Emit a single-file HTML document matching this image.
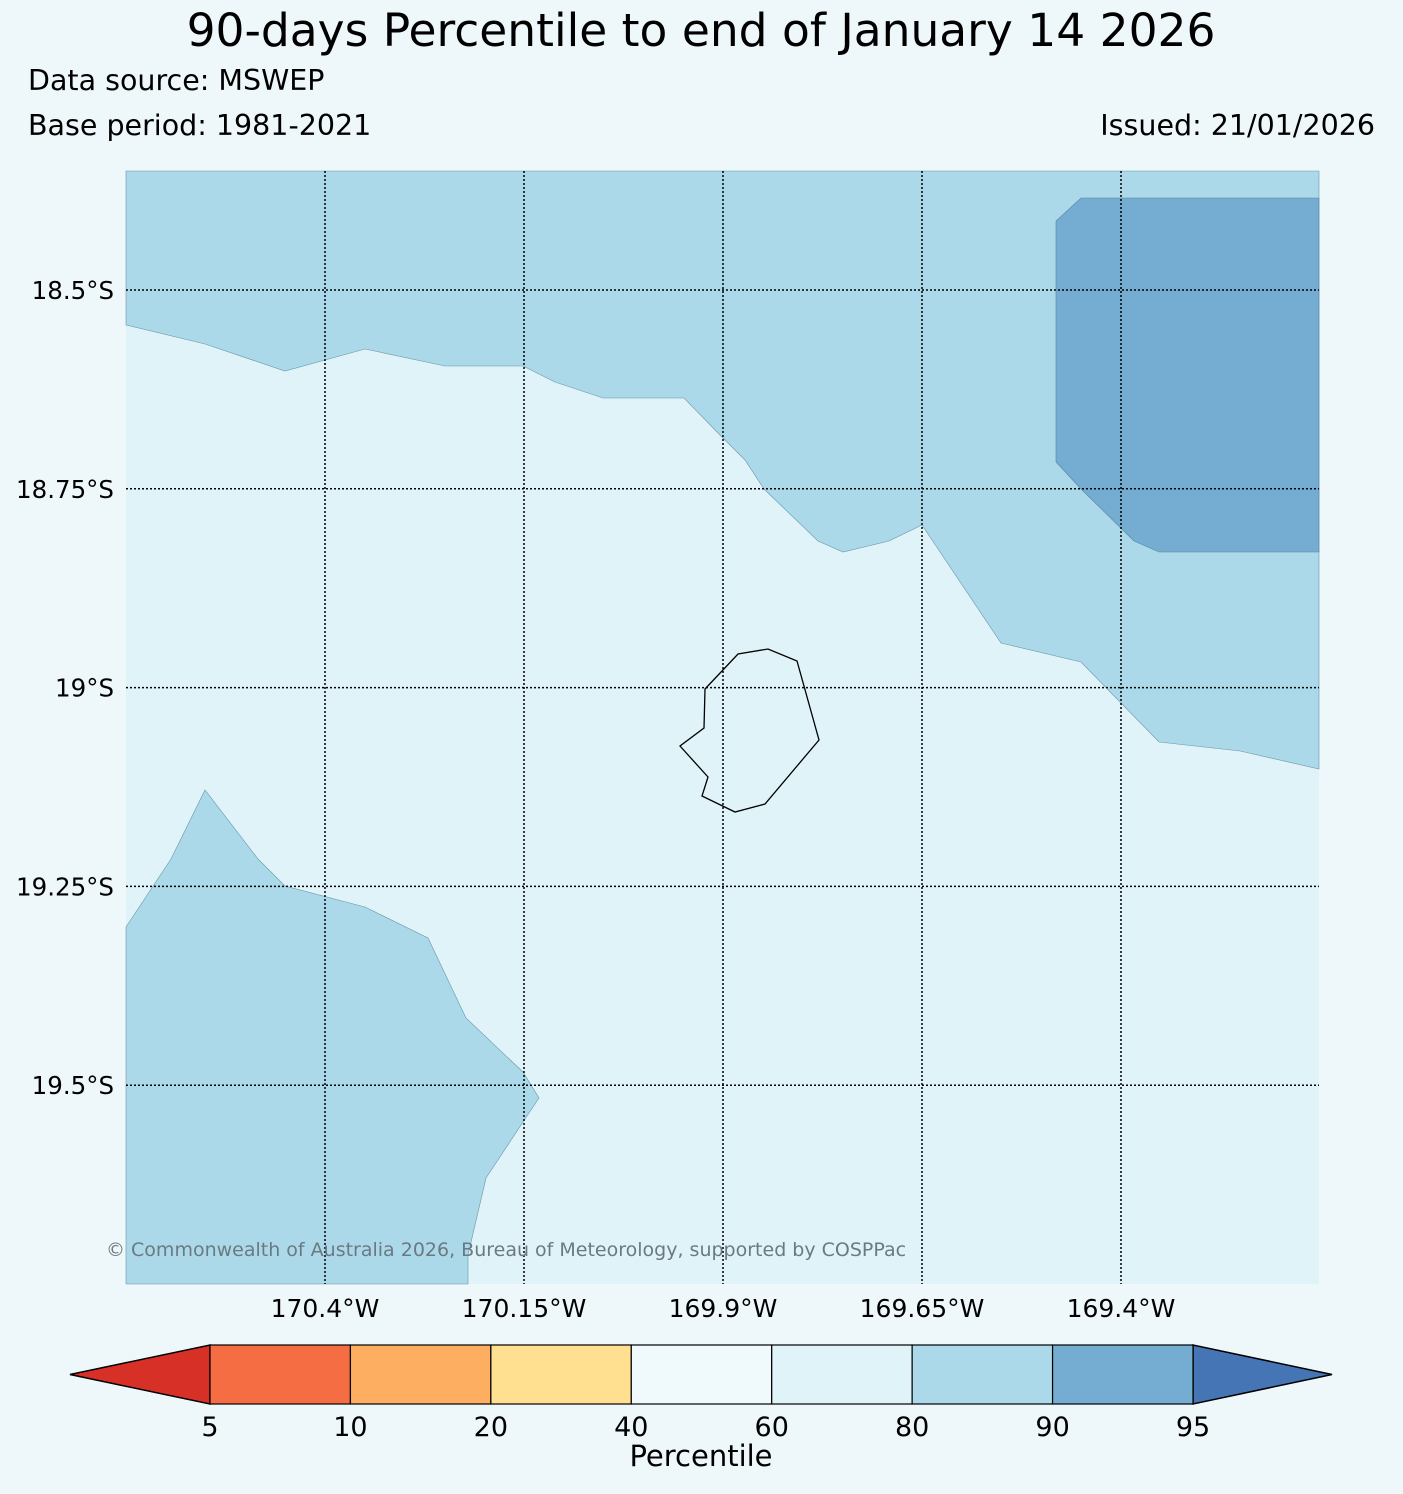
<!DOCTYPE html>
<html><head><meta charset="utf-8"><style>
html,body{margin:0;padding:0;background:#eef7fa;}
svg{display:block;font-family:"DejaVu Sans","Liberation Sans",sans-serif;}
</style></head><body>
<svg id="chart" width="1403" height="1494" viewBox="0 0 1403 1494">
<rect x="0" y="0" width="1403" height="1494" fill="#eef7fa"/>
<text x="701" y="46" font-size="45.5" text-anchor="middle">90-days Percentile to end of January 14 2026</text>
<text x="28" y="90" font-size="28.5">Data source: MSWEP</text>
<text x="28" y="135" font-size="28.5">Base period: 1981-2021</text>
<text x="1375" y="135" font-size="28.5" text-anchor="end">Issued: 21/01/2026</text>
<g>
<rect x="126" y="171" width="1193" height="1113" fill="#e0f3f8"/>
<polygon fill="#abd9e9" stroke="#6a97a8" stroke-width="0.6" points="126,171 1319,171 1319,769 1240,751 1159,742 1081,662 1001,643 922,525 889,541 843,552 818,541 764,489 745,460 720,435 684,398 603,398 555,382 523,366 445,366 365,349 285,371 205,344 126,325"/>
<polygon fill="#74add1" stroke="#5a85a0" stroke-width="0.6" points="1081,198 1319,198 1319,552 1159,552 1134,541 1081,489 1056,462 1056,221"/>
<polygon fill="#abd9e9" stroke="#6a97a8" stroke-width="0.6" points="126,927 171,859 205,790 258,859 285,886 365,907 428,938 466,1018 523,1072 539,1098 523,1122 486,1178 468,1255 468,1284 126,1284"/>
<polygon fill="none" stroke="#000" stroke-width="1.3" points="705,689 738,654 768,649 797,661 819,740 765,804 735,812 702,796 708,777 680,746 704,728"/>
<g id="grid"></g>
<text x="106" y="1256" font-size="19" fill="#6b7a82">© Commonwealth of Australia 2026, Bureau of Meteorology, supported by COSPPac</text>
</g>
<g id="lonlabels"></g>
<g id="latlabels"></g>
<g id="cbar"></g>
<text x="701" y="1466" font-size="29" text-anchor="middle">Percentile</text>
</svg>
<script>
const lonTicks = [-170.4, -170.15, -169.9, -169.65, -169.4];
const lonTickLabels = ["170.4°W", "170.15°W", "169.9°W", "169.65°W", "169.4°W"];
const latTicks = [-18.5, -18.75, -19.0, -19.25, -19.5];
const latTickLabels = ["18.5°S", "18.75°S", "19°S", "19.25°S", "19.5°S"];
const cbarBounds = [5, 10, 20, 40, 60, 80, 90, 95];
const cbarColors = ["#f46d43", "#fdae61", "#fee090", "#f0f9fb", "#e0f3f8", "#abd9e9", "#74add1"];
const cbarTickLabels = ["5", "10", "20", "40", "60", "80", "90", "95"];

const NS = "http://www.w3.org/2000/svg";
function xLon(v){ return 325 + (v + 170.4) / 0.25 * 199; }
function yLat(v){ return 290 + (-18.5 - v) / 0.25 * 198.8; }
function xCbar(i){ return 210 + i * (1193 - 210) / (cbarBounds.length - 1); }
function mk(tag, attrs, parent){ const e = document.createElementNS(NS, tag); for (const k in attrs) e.setAttribute(k, attrs[k]); parent.appendChild(e); return e; }

const grid = document.getElementById('grid');
const lonL = document.getElementById('lonlabels');
const latL = document.getElementById('latlabels');
lonTicks.forEach((v, i) => {
  const x = xLon(v);
  const l = mk('line', {x1:x, x2:x, y1:171, y2:1284, stroke:'#000', 'stroke-width':1.5, 'stroke-dasharray':'2,2'}, grid);
  
  
  const t = mk('text', {x:x, y:1317, 'font-size':25, 'text-anchor':'middle'}, lonL);
  t.textContent = lonTickLabels[i];
  
  
});
latTicks.forEach((v, i) => {
  const y = yLat(v);
  const l = mk('line', {x1:126, x2:1319, y1:y, y2:y, stroke:'#000', 'stroke-width':1.5, 'stroke-dasharray':'2,2'}, grid);
  
  
  const t = mk('text', {x:114, y:y + 9, 'font-size':24.5, 'text-anchor':'end'}, latL);
  t.textContent = latTickLabels[i];
  
  
});

const cb = document.getElementById('cbar');
const cbTop = 1345, cbBot = 1404, cbMid = 1374.5;
const lt = mk('polygon', {points:`70,${cbMid} ${xCbar(0)},${cbTop} ${xCbar(0)},${cbBot}`, fill:'#d73027', stroke:'#000', 'stroke-width':1.5}, cb);


const cbLast = xCbar(cbarBounds.length - 1);
const rt = mk('polygon', {points:`1332,${cbMid} ${cbLast},${cbTop} ${cbLast},${cbBot}`, fill:'#4575b4', stroke:'#000', 'stroke-width':1.5}, cb);


cbarColors.forEach((c, i) => {
  const r = mk('rect', {x:xCbar(i), y:cbTop, width:xCbar(i + 1) - xCbar(i), height:cbBot - cbTop, fill:c, stroke:'#000', 'stroke-width':1.2}, cb);
  
  
});
cbarTickLabels.forEach((s, i) => {
  const t = mk('text', {x:xCbar(i), y:1436, 'font-size':27, 'text-anchor':'middle'}, cb);
  t.textContent = s;
  
  
});
</script>
</body></html>
